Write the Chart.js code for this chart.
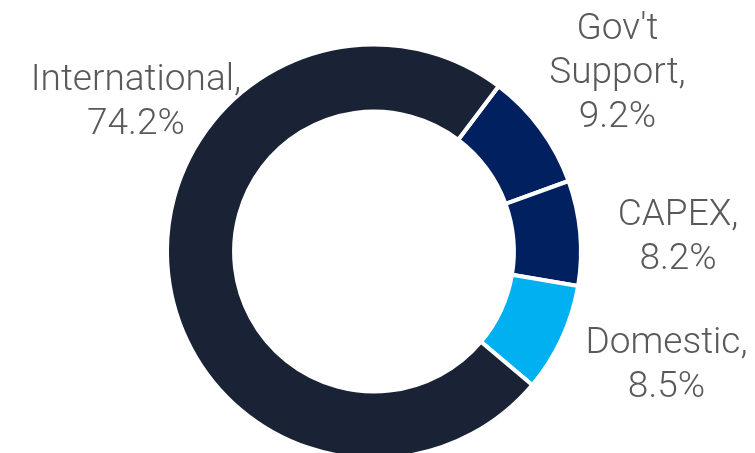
<!DOCTYPE html>
<html>
<head>
<meta charset="utf-8">
<title>Revenue split</title>
<script src="https://cdn.jsdelivr.net/npm/chart.js@4.4.1/dist/chart.umd.min.js"></script>
<style>
  html, body { margin: 0; padding: 0; background: #fff; }
  #wrap { width: 755px; height: 453px; position: relative; }
</style>
</head>
<body>
<div id="wrap"><canvas id="donut"></canvas></div>
<script>
// Data (clockwise, starting from the top-right segment)
const categories = [["Gov't", "Support"], "CAPEX", "Domestic", "International"];
const shares = [9.2, 8.2, 8.5, 74.2];
const colors = ['#002060', '#002060', '#00B0F0', '#1A2236'];

// label anchors relative to the ring centre, in units of outer radius
const labelSpots = [
    { dx: 1.176, dy: -1.027 },
    { dx: 1.469, dy: -0.128 },
    { dx: 1.413, dy: 0.490 },
    { dx: -1.150, dy: -0.780 }
];

const outsideLabels = {
    id: 'outsideLabels',
    afterDatasetsDraw(chart) {
        const ctx = chart.ctx;
        const meta = chart.getDatasetMeta(0);
        const first = meta.data[0];
        const cx = first.x, cy = first.y, R = first.outerRadius;
        ctx.save();
        ctx.fillStyle = '#595959';
        ctx.font = '300 37px Roboto, "Noto Sans", sans-serif';
        ctx.textAlign = 'center';
        ctx.textBaseline = 'alphabetic';
        const lineH = 44;
        chart.data.labels.forEach((lab, i) => {
            const lines = (Array.isArray(lab) ? lab.slice() : [lab]);
            lines[lines.length - 1] += ',';
            lines.push(shares[i].toFixed(1) + '%');
            const spot = labelSpots[i];
            const x = cx + spot.dx * R;
            const y = cy + spot.dy * R;
            lines.forEach((t, k) => ctx.fillText(t, x, y + k * lineH));
        });
        ctx.restore();
    }
};

new Chart(document.getElementById('donut'), {
    type: 'doughnut',
    data: {
        labels: categories,
        datasets: [{
            data: shares,
            backgroundColor: colors,
            borderColor: '#ffffff',
            borderWidth: 4,
            radius: 207,
            cutout: '67.6%'
        }]
    },
    options: {
        responsive: true,
        maintainAspectRatio: false,
        animation: false,
        rotation: 37,
        layout: { padding: { left: 0, right: 7, top: 50, bottom: 0 } },
        plugins: {
            legend: { display: false },
            tooltip: { enabled: false }
        }
    },
    plugins: [outsideLabels]
});
</script>
</body>
</html>
